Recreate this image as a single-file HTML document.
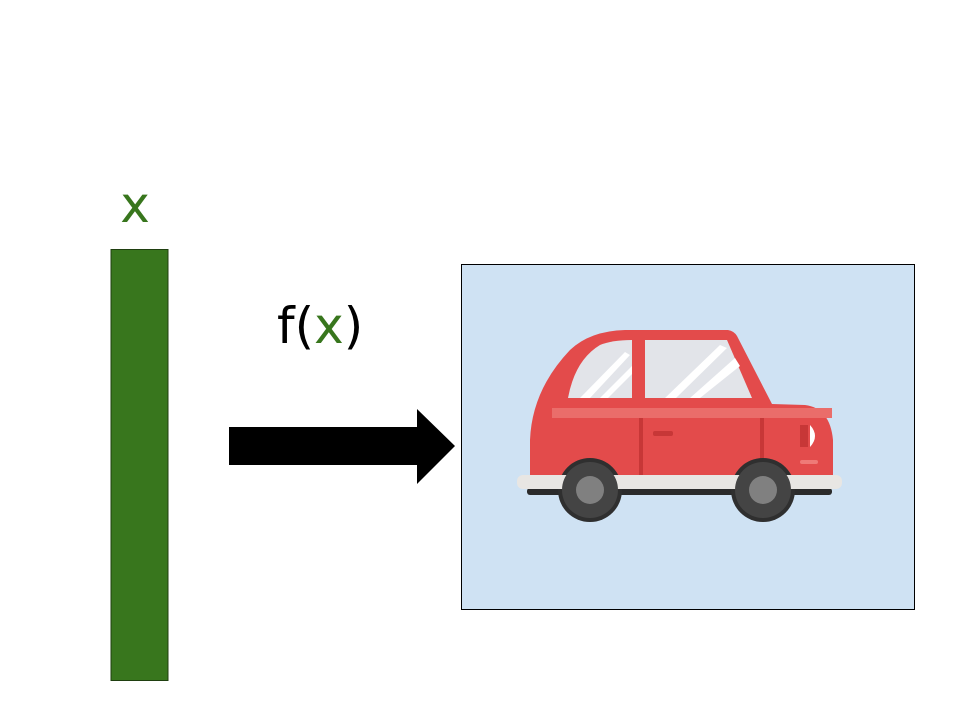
<!DOCTYPE html>
<html><head><meta charset="utf-8"><style>
body{margin:0;width:960px;height:720px;background:#fff;overflow:hidden;font-family:"Liberation Sans","DejaVu Sans",sans-serif}
</style></head><body>
<svg width="960" height="720">
<text x="135" y="222" font-size="50" fill="#38761d" text-anchor="middle" font-family="DejaVu Sans, sans-serif">x</text>
<rect x="111" y="249.5" width="57" height="431" fill="#38761d" stroke="#1f3f10" stroke-width="1"/>
<text x="277" y="343" font-size="50" fill="#000" font-family="DejaVu Sans, sans-serif">f(<tspan fill="#38761d">x</tspan>)</text>
<polygon points="229,427 417,427 417,409 455,446 417,484 417,465 229,465" fill="#000"/>
<rect x="461.5" y="264.5" width="453" height="345" fill="#cfe2f3" stroke="#000" stroke-width="1"/>
<g>
<path d="M530,478 L530,440 Q532,390 570,350 Q590,331 625,330 L728,330 Q734,331 737,336 L772,404 L805,405 Q830,408 833,440 L833,478 Z" fill="#e34b4b"/>
<rect x="552" y="408" width="280" height="10" fill="#ea6d6a"/>
<path d="M568,398 Q575,360 600,345 Q612,340 632,340 L632,398 Z" fill="#e2e4e9"/>
<path d="M645,340 L727,340 L752,398 L645,398 Z" fill="#e2e4e9"/>
<path d="M580,398 L625,352 L630,355 L590,398 Z M600,398 L632,366 L632,374 L608,398Z" fill="#fff"/>
<path d="M665,398 L720,345 L727,348 L676,398 Z M690,398 L735,358 L740,366 L700,398Z" fill="#fff"/>
<rect x="639" y="418" width="4" height="63" fill="#c73737"/>
<rect x="760" y="418" width="4" height="63" fill="#c73737"/>
<rect x="653" y="431" width="20" height="5" rx="2" fill="#c73737"/>
<rect x="553" y="478" width="260" height="8" fill="#c73737"/>
<rect x="800" y="425" width="8" height="22" fill="#c73737"/>
<path d="M810,425 Q820,436 810,447 Z" fill="#fff"/>
<rect x="800" y="460" width="18" height="4" rx="2" fill="#ef7a77"/>
<rect x="527" y="488" width="305" height="7" rx="3" fill="#2b2b2b"/>
<circle cx="590" cy="490" r="32" fill="#2f2f2f"/>
<circle cx="763" cy="490" r="32" fill="#2f2f2f"/>
<rect x="517" y="475" width="325" height="14" rx="6" fill="#e8e6e3"/>
<circle cx="590" cy="490" r="28" fill="#444"/>
<circle cx="590" cy="490" r="14" fill="#808080"/>
<circle cx="763" cy="490" r="28" fill="#444"/>
<circle cx="763" cy="490" r="14" fill="#808080"/>
</g>
</svg>
</body></html>
